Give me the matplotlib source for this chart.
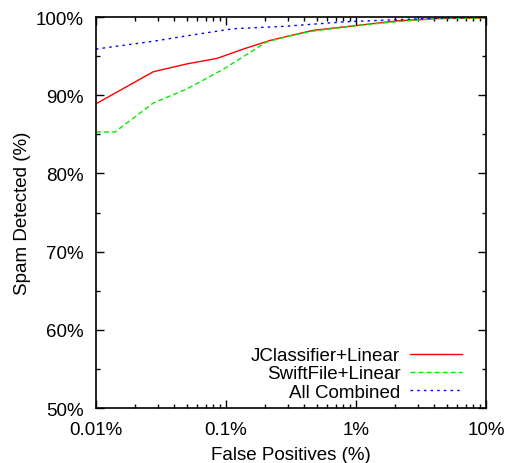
import numpy as np
import matplotlib.pyplot as plt
import matplotlib.ticker as tck

plt.rcParams['font.family'] = ['Liberation Sans', 'DejaVu Sans']

# JClassifier+Linear
fp_jc = [0.01, 0.0276, 0.05, 0.085, 0.136, 0.218, 0.31, 0.47, 1.0, 2.06, 4.2, 10.0]
det_jc = [88.9, 93.0, 94.0, 94.7, 95.9, 97.0, 97.6, 98.3, 98.9, 99.5, 99.8, 99.9]

# SwiftFile+Linear
fp_sf = [0.01, 0.014, 0.0276, 0.05, 0.095, 0.205, 0.31, 0.47, 1.0, 2.06, 4.2, 10.0]
det_sf = [85.3, 85.3, 89.0, 90.8, 93.3, 96.8, 97.6, 98.2, 98.9, 99.4, 99.8, 99.9]

# All Combined
fp_all = [0.01, 0.0276, 0.06, 0.114, 0.276, 0.848, 3.3, 10.0]
det_all = [95.9, 96.9, 97.8, 98.5, 98.8, 99.4, 99.8, 100.0]

fig = plt.figure(figsize=(5.06, 4.64), dpi=100)
ax = fig.add_axes([0.1897, 0.1185, 0.7708, 0.8427])

ax.plot(fp_jc, det_jc, color='#ff0000', lw=1.0, label='JClassifier+Linear')
ax.plot(fp_sf, det_sf, color='#00ee00', lw=1.0, dashes=(3.6, 2.2), label='SwiftFile+Linear')
ax.plot(fp_all, det_all, color='#0000ff', lw=1.0, dashes=(1.8, 3.0), label='All Combined')

ax.set_xscale('log')
ax.set_xlim(0.01, 10)
ax.set_ylim(50, 100)
ax.xaxis.set_major_locator(tck.FixedLocator([0.01, 0.1, 1, 10]))
ax.xaxis.set_major_formatter(tck.FixedFormatter(['0.01%', '0.1%', '1%', '10%']))
ax.xaxis.set_minor_locator(tck.LogLocator(subs=np.arange(2, 10)))
ax.xaxis.set_minor_formatter(tck.NullFormatter())
ax.yaxis.set_major_locator(tck.MultipleLocator(10))
ax.yaxis.set_minor_locator(tck.MultipleLocator(5))
ax.yaxis.set_major_formatter(tck.FuncFormatter(lambda v, p: '%d%%' % v))

ax.tick_params(which='both', direction='in', top=True, right=True, labelsize=13.5, width=1)
ax.tick_params(which='major', length=6, pad=9)
ax.tick_params(which='minor', length=3)
for s in ax.spines.values():
    s.set_linewidth(1.2)

ax.set_xlabel('False Positives (%)', fontsize=13.5, labelpad=6)
ax.set_ylabel('Spam Detected (%)', fontsize=13.5, labelpad=3)

ax.legend(loc='lower right', bbox_to_anchor=(0.958, 0.0), frameon=False, markerfirst=False,
          fontsize=13.5, handlelength=2.8, labelspacing=0.05, borderaxespad=0.0, handletextpad=0.5)

fig.savefig('out.png', dpi=100)
